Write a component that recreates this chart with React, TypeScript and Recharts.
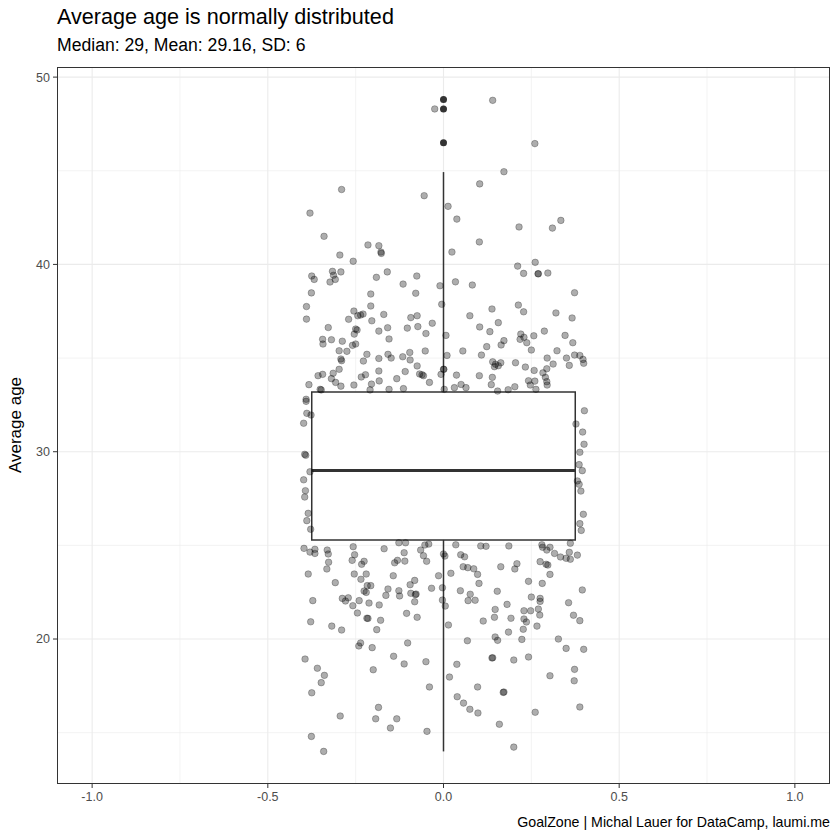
import React from 'react';
import {
  ComposedChart, Scatter, XAxis, YAxis, CartesianGrid, ReferenceArea, ReferenceLine,
} from 'recharts';

// jittered players: [horizontal jitter, average age]
const jitterPoints: [number, number][] = [
  [-0.025, 48.3], [-0.29, 44.0], [-0.38, 42.74], [-0.34, 41.5], [-0.215, 41.04], [-0.184, 41.0], [-0.178, 40.66],
  [-0.055, 43.67], [0.013, 43.1], [-0.295, 40.5], [0.14, 48.76], [0.26, 46.45], [0.172, 44.95], [0.103, 44.3],
  [0.038, 42.42], [0.215, 42.0], [0.31, 41.94], [0.334, 42.35], [0.102, 41.2], [0.024, 40.66],
  [-0.257, 40.17], [-0.177, 40.59], [-0.375, 39.38], [-0.368, 39.2], [-0.316, 39.63], [-0.292, 39.6], [-0.313, 39.42],
  [-0.308, 39.2], [-0.323, 39.06], [-0.191, 39.31], [-0.16, 39.6], [-0.115, 38.95], [-0.076, 39.38], [-0.01, 38.86],
  [-0.376, 38.48], [-0.207, 38.42], [-0.079, 38.46], [-0.39, 37.75], [-0.207, 37.78], [-0.005, 37.87], [-0.39, 37.08],
  [-0.255, 37.51], [-0.244, 37.26], [-0.236, 37.3], [-0.229, 37.35], [-0.27, 37.07], [-0.204, 36.99], [-0.17, 37.33],
  [-0.093, 37.16], [-0.075, 37.26], [-0.073, 36.68], [-0.103, 36.6], [-0.032, 36.86], [-0.05, 36.31], [-0.328, 36.63],
  [-0.25, 36.55], [-0.246, 36.5], [-0.254, 36.28], [-0.184, 36.44], [-0.159, 36.62], [-0.344, 36.0], [-0.343, 35.75],
  [-0.319, 35.98], [-0.288, 35.9], [-0.259, 35.68], [-0.25, 35.75], [-0.155, 36.02], [0.007, 36.21], [-0.297, 35.39],
  [-0.275, 35.36], [-0.292, 34.95], [-0.29, 34.86], [-0.218, 35.2], [-0.228, 34.84], [-0.184, 34.98], [-0.158, 35.2],
  [-0.149, 35.0], [-0.116, 35.07], [-0.096, 35.3], [-0.095, 34.9], [-0.052, 35.38], [0.01, 35.14], [-0.297, 34.4],
  [-0.314, 34.19], [-0.357, 34.06], [-0.344, 34.13], [-0.319, 33.9], [-0.307, 33.7], [-0.292, 33.5], [-0.383, 33.58],
  [-0.351, 33.33], [-0.255, 33.56], [-0.234, 33.99], [-0.222, 34.11], [-0.205, 33.61], [-0.184, 34.31], [-0.183, 33.78],
  [-0.155, 33.33], [-0.133, 33.9], [-0.109, 34.28], [-0.075, 34.58], [-0.068, 34.15], [-0.061, 34.11], [-0.057, 34.06],
  [-0.04, 33.7], [-0.007, 34.13], [0.001, 34.4], [-0.114, 33.37], [-0.209, 33.3], [-0.348, 33.3], [-0.391, 32.8],
  [0.211, 39.91], [0.261, 40.11], [0.228, 39.52], [0.269, 39.5], [0.27, 39.5], [0.297, 39.54], [0.034, 39.07],
  [0.082, 38.9], [0.373, 38.49], [0.213, 37.83], [0.228, 37.47], [0.138, 37.62], [0.32, 37.41], [0.075, 37.26],
  [0.366, 37.14], [0.156, 36.89], [0.103, 36.66], [0.132, 36.41], [0.287, 36.44], [0.346, 36.21], [0.22, 36.28],
  [0.229, 36.11], [0.218, 36.0], [0.237, 35.82], [0.257, 36.19], [0.172, 35.93], [0.164, 35.7], [0.368, 35.82],
  [0.123, 35.61], [0.055, 35.38], [0.25, 35.43], [0.323, 35.39], [0.108, 35.16], [0.373, 35.16], [0.388, 35.14],
  [0.397, 34.93], [0.399, 34.72], [0.35, 35.0], [0.295, 35.0], [0.14, 34.8], [0.148, 34.67], [0.145, 34.54],
  [0.156, 34.59], [0.163, 34.75], [0.205, 34.75], [0.233, 34.52], [0.312, 34.68], [0.358, 34.61], [0.294, 34.43],
  [0.258, 34.34], [0.283, 34.21], [0.29, 33.97], [0.294, 33.74], [0.295, 33.56], [0.037, 34.09], [0.102, 34.06],
  [0.139, 33.97], [0.136, 33.58], [0.242, 33.79], [0.26, 33.77], [0.247, 33.56], [0.263, 33.33], [0.203, 33.47],
  [0.184, 33.31], [0.154, 33.24], [0.05, 33.59], [0.031, 33.42], [0.064, 33.42], [0.002, 33.33], [0.0, 34.4],
  [-0.391, 32.69], [-0.389, 32.05], [-0.398, 31.52], [-0.395, 29.86], [-0.392, 29.81], [-0.38, 28.93], [-0.398, 28.5],
  [-0.393, 27.92], [-0.395, 27.58], [-0.385, 26.71], [-0.389, 26.32], [-0.378, 25.86], [-0.377, 31.96], [-0.397, 24.84],
  [-0.366, 24.79], [-0.257, 24.93], [-0.169, 24.82], [-0.127, 25.14], [-0.108, 25.14], [-0.053, 25.02], [-0.042, 25.07],
  [0.401, 32.19], [0.377, 31.48], [0.396, 31.05], [0.4, 30.4], [0.388, 29.97], [0.386, 29.31], [0.395, 28.99],
  [0.381, 28.44], [0.386, 28.26], [0.391, 27.9], [0.398, 26.66], [0.388, 26.16], [0.392, 25.8],
  [-0.38, 24.64], [-0.366, 24.57], [-0.331, 24.75], [-0.328, 24.54], [-0.253, 24.5], [-0.26, 24.2], [-0.327, 24.1],
  [-0.332, 23.74], [-0.233, 23.99], [-0.226, 24.15], [-0.139, 24.07], [-0.131, 24.2], [-0.112, 24.61], [-0.11, 24.16],
  [-0.065, 24.75], [-0.057, 24.45], [-0.048, 24.15], [0.0, 24.54], [-0.385, 23.47], [-0.254, 23.47], [-0.22, 23.47],
  [-0.235, 23.19], [-0.308, 23.01], [-0.143, 23.38], [-0.082, 23.13], [-0.095, 22.9], [-0.014, 23.38], [-0.217, 22.85],
  [-0.207, 22.85], [-0.226, 22.56], [-0.22, 22.49], [-0.158, 22.67], [-0.127, 22.58], [-0.125, 22.3], [-0.164, 22.33],
  [-0.093, 22.44], [-0.08, 22.37], [-0.078, 22.4], [-0.034, 22.71], [-0.003, 22.74], [-0.082, 21.99], [-0.372, 22.05],
  [-0.288, 22.17], [-0.279, 22.03], [-0.271, 22.2], [-0.258, 21.78], [-0.24, 22.05], [-0.212, 21.92], [-0.183, 21.82],
  [-0.245, 21.39], [-0.105, 21.37], [-0.075, 21.16], [-0.003, 22.08], [0.005, 21.76], [-0.378, 20.92], [-0.318, 20.69],
  [-0.29, 20.48], [-0.218, 21.11], [-0.215, 21.1], [-0.179, 21.0], [-0.19, 20.5], [-0.236, 19.79], [-0.241, 19.63],
  [-0.203, 19.54], [-0.102, 19.79], [0.014, 20.75],
  [0.035, 25.03], [0.106, 24.97], [0.121, 24.95], [0.186, 24.97], [0.28, 25.03], [0.282, 24.9], [0.294, 24.75],
  [0.303, 24.9], [0.361, 25.11], [0.004, 24.43], [0.049, 24.5], [0.06, 24.39], [0.316, 24.57], [0.333, 24.38],
  [0.349, 24.31], [0.358, 24.63], [0.361, 24.26], [0.381, 24.48], [0.275, 24.13], [0.292, 23.99], [0.297, 23.95],
  [0.209, 24.02], [0.203, 23.74], [0.163, 23.86], [0.056, 23.86], [0.069, 23.81], [0.086, 23.75], [0.097, 23.45],
  [0.021, 23.51], [0.303, 23.45], [0.101, 22.97], [0.242, 23.08], [0.281, 22.97], [0.048, 22.58], [0.076, 22.39],
  [0.07, 22.05], [0.09, 22.07], [0.153, 22.55], [0.25, 22.24], [0.275, 22.17], [0.275, 22.01], [0.395, 22.62],
  [0.356, 21.94], [0.181, 21.85], [0.147, 21.58], [0.145, 21.16], [0.113, 20.96], [0.192, 21.11], [0.229, 21.51],
  [0.248, 21.51], [0.27, 21.6], [0.274, 21.28], [0.229, 21.07], [0.236, 20.91], [0.37, 21.27], [0.388, 20.98],
  [0.185, 20.37], [0.227, 20.52], [0.266, 20.69], [0.068, 19.91], [0.147, 20.11], [0.154, 19.93], [0.223, 19.98],
  [0.327, 20.0], [0.349, 19.5], [0.399, 19.45],
  [-0.394, 18.93], [-0.359, 18.44], [-0.339, 18.06], [-0.348, 17.67], [-0.375, 17.13], [-0.294, 15.89], [-0.376, 14.8],
  [-0.341, 14.0], [-0.2, 18.36], [-0.142, 19.08], [-0.112, 18.67], [-0.05, 18.79], [-0.04, 17.44], [-0.185, 16.35],
  [-0.193, 15.74], [-0.133, 15.74], [-0.151, 15.25], [-0.047, 15.07], [0.017, 17.97],
  [0.138, 18.99], [0.14, 19.0], [0.2, 18.88], [0.242, 19.04], [0.038, 18.65], [0.097, 17.44], [0.17, 17.15],
  [0.172, 17.17], [0.303, 18.04], [0.373, 18.38], [0.372, 17.77], [0.039, 16.92], [0.057, 16.58], [0.075, 16.25],
  [0.098, 16.05], [0.261, 16.09], [0.388, 16.37], [0.159, 15.45], [0.2, 14.23],
];

// boxplot summary
const boxWidth = 0.375;
const whiskerLow = 14.0;
const q1 = 25.29;
const median = 29.0;
const q3 = 33.19;
const whiskerHigh = 44.93;
const outlierAges = [46.5, 48.3, 48.8];

const xTicks = [-1, -0.5, 0, 0.5, 1];
const xMinor = [-0.75, -0.25, 0.25, 0.75];
const yTicks = [20, 30, 40, 50];
const yMinor = [15, 25, 35, 45];

const pointData = jitterPoints.map(([jitter, age]) => ({ jitter, age }));
const outlierData = outlierAges.map((age) => ({ jitter: 0, age }));

const font = '"Liberation Sans", Arial, Helvetica, sans-serif';

const JitterDot = (props: any) => (
  <circle cx={props.cx} cy={props.cy} r={3.3} fill="#000" fillOpacity={0.32}
    stroke="#000" strokeOpacity={0.32} strokeWidth={0.8} />
);

const OutlierDot = (props: any) => (
  <circle cx={props.cx} cy={props.cy} r={3.5} fill="#333" />
);

export default function App() {
  return (
    <div style={{ position: 'absolute', left: 0, top: 0, width: 840, height: 840, background: '#fff', fontFamily: font }}>
      <div style={{ position: 'absolute', left: 57, top: 4, fontSize: 21.6, color: '#000', whiteSpace: 'nowrap' }}>
        Average age is normally distributed
      </div>
      <div style={{ position: 'absolute', left: 57, top: 35, fontSize: 17.6, color: '#000', whiteSpace: 'nowrap' }}>
        Median: 29, Mean: 29.16, SD: 6
      </div>
      <div style={{
        position: 'absolute', left: 16, top: 425, fontSize: 17, color: '#000',
        transform: 'translate(-50%, -50%) rotate(-90deg)', whiteSpace: 'nowrap',
      }}>
        Average age
      </div>
      <div style={{ position: 'absolute', right: 10, top: 814, fontSize: 14.2, color: '#000', whiteSpace: 'nowrap' }}>
        GoalZone | Michal Lauer for DataCamp, laumi.me
      </div>

      <ComposedChart width={840} height={840} margin={{ top: 67, right: 10, left: 0, bottom: 0 }}>
        <CartesianGrid stroke="#ebebeb" strokeWidth={0.6} horizontalValues={yMinor} verticalValues={xMinor} />
        <CartesianGrid stroke="#ebebeb" strokeWidth={1.1} horizontalValues={yTicks} verticalValues={xTicks} />
        <XAxis type="number" dataKey="jitter" domain={[-1.1, 1.1]} ticks={xTicks} allowDataOverflow
          height={56} tickSize={4} tickMargin={4} axisLine={false} tickLine={{ stroke: '#333' }}
          tick={{ fill: '#4d4d4d', fontSize: 12.5, fontFamily: font }} tickFormatter={(v: number) => v.toFixed(1)} />
        <YAxis type="number" dataKey="age" domain={[12.26, 50.54]} ticks={yTicks} allowDataOverflow
          width={57} tickSize={4} tickMargin={3} axisLine={false} tickLine={{ stroke: '#333' }}
          tick={{ fill: '#4d4d4d', fontSize: 12.5, fontFamily: font }} />
        <Scatter data={pointData} shape={JitterDot} isAnimationActive={false} />
        <ReferenceLine segment={[{ x: 0, y: whiskerLow }, { x: 0, y: q1 }]} stroke="#333" strokeWidth={1.5} />
        <ReferenceLine segment={[{ x: 0, y: q3 }, { x: 0, y: whiskerHigh }]} stroke="#333" strokeWidth={1.5} />
        <ReferenceArea x1={-boxWidth} x2={boxWidth} y1={q1} y2={q3} fill="#fff" fillOpacity={1}
          stroke="#333" strokeWidth={1.5} />
        <ReferenceLine segment={[{ x: -boxWidth, y: median }, { x: boxWidth, y: median }]} stroke="#333" strokeWidth={3} />
        <Scatter data={outlierData} shape={OutlierDot} isAnimationActive={false} />
      </ComposedChart>

      <div style={{
        position: 'absolute', left: 57, top: 67, width: 773, height: 717,
        border: '1px solid #333', boxSizing: 'border-box', pointerEvents: 'none',
      }} />
    </div>
  );
}
